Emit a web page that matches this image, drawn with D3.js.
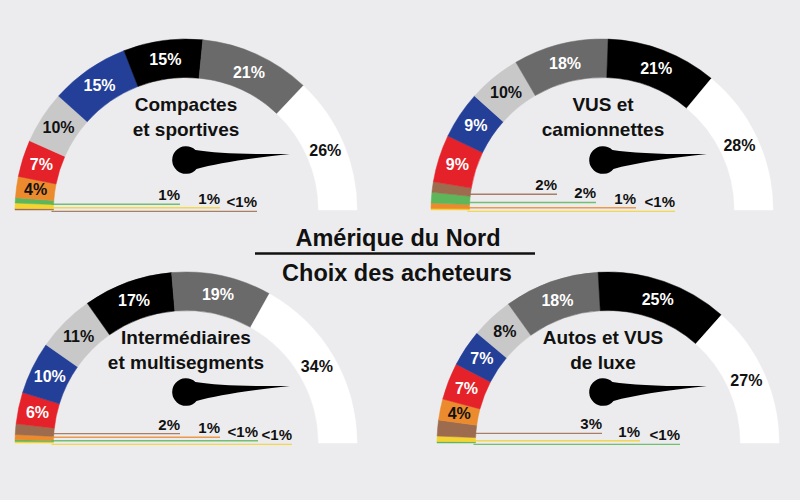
<!DOCTYPE html>
<html><head><meta charset="utf-8">
<script src="https://cdn.jsdelivr.net/npm/d3@7"></script>
<style>
html,body{margin:0;padding:0;background:#ececee;}
svg{display:block;}
text{font-family:"Liberation Sans",Arial,sans-serif;font-weight:bold;}
</style></head><body>
<svg id="chart" width="800" height="500"></svg>
<script>
// ---- data ----
const mainTitle = ["Amérique du Nord", "Choix des acheteurs"];
const gaugeTitles = [["Compactes", "et sportives"], ["VUS et", "camionnettes"], ["Intermédiaires", "et multisegments"], ["Autos et VUS", "de luxe"]];

// brands listed from the bottom-left end of each gauge to the right end
const g1Brands = ["brown", "yellow", "green", "orange", "red", "lightgrey", "blue", "black", "darkgrey", "white"];
const g1Values = [0.3, 1, 1, 4, 7, 10, 15, 15, 21, 26];
const g1Labels = ["<1%", "1%", "1%", "4%", "7%", "10%", "15%", "15%", "21%", "26%"];

const g2Brands = ["yellow", "orange", "green", "brown", "red", "blue", "lightgrey", "darkgrey", "black", "white"];
const g2Values = [0.3, 1, 2, 2, 9, 9, 10, 18, 21, 28];
const g2Labels = ["<1%", "1%", "2%", "2%", "9%", "9%", "10%", "18%", "21%", "28%"];

const g3Brands = ["yellow", "green", "orange", "brown", "red", "blue", "lightgrey", "black", "darkgrey", "white"];
const g3Values = [0.3, 0.3, 1, 2, 6, 10, 11, 17, 19, 34];
const g3Labels = ["<1%", "<1%", "1%", "2%", "6%", "10%", "11%", "17%", "19%", "34%"];

const g4Brands = ["green", "yellow", "brown", "orange", "red", "blue", "lightgrey", "darkgrey", "black", "white"];
const g4Values = [0.3, 1, 3, 4, 7, 7, 8, 18, 25, 27];
const g4Labels = ["<1%", "1%", "3%", "4%", "7%", "7%", "8%", "18%", "25%", "27%"];

// ---- styles / layout ----
const brandColors = {
  white: "#ffffff", black: "#000000", darkgrey: "#6a6a6a", lightgrey: "#c8c8c9",
  blue: "#243f98", red: "#e5222a", orange: "#eb8b2e", brown: "#9d6b4e",
  green: "#5db75a", yellow: "#f5d432"
};
const darkText = new Set(["white", "lightgrey", "orange", "yellow"]);

const layout = [
  {cx: 186, cy: 210, nx: 186, ny: 160, ends: [-6, 34, 71]},
  {cx: 602, cy: 210, nx: 603, ny: 160, ends: [-46, -7, 33, 72]},
  {cx: 186, cy: 443, nx: 186, ny: 392, ends: [-6, 34, 72, 106]},
  {cx: 608, cy: 443, nx: 603, ny: 392, ends: [-1, 37, 77]}
];
const rOut = 171, rIn = 132.5;

const gauges = [
  {brands: g1Brands, values: g1Values, labels: g1Labels},
  {brands: g2Brands, values: g2Values, labels: g2Labels},
  {brands: g3Brands, values: g3Values, labels: g3Labels},
  {brands: g4Brands, values: g4Values, labels: g4Labels}
];

const svg = d3.select("#chart");
svg.append("rect").attr("width", 800).attr("height", 500).attr("fill", "#ececee");

const pie = d3.pie().sort(null).value(d => d.value)
  .startAngle(-Math.PI / 2).endAngle(Math.PI / 2);
const arc = d3.arc().innerRadius(rIn).outerRadius(rOut);

const needlePath = "M10,-9.5 Q40,-3 104,0 Q40,3 10,9.5 A13.8,13.8 0 1 1 10,-9.5 Z";

gauges.forEach((gd, gi) => {
  const L = layout[gi];
  const rows = gd.brands.map((b, i) => ({brand: b, value: gd.values[i], label: gd.labels[i]}));
  const arcs = pie(rows);
  const g = svg.append("g");
  const ga = g.append("g").attr("transform", `translate(${L.cx},${L.cy})`);

  ga.selectAll("path").data(arcs).enter().append("path")
    .attr("d", arc)
    .attr("fill", d => brandColors[d.data.brand])
    .attr("stroke", d => brandColors[d.data.brand])
    .attr("stroke-width", 0.5);

  // labels inside big slices
  ga.selectAll("text.in").data(arcs.filter(d => d.data.value >= 4)).enter().append("text")
    .attr("class", "in")
    .attr("transform", d => `translate(${arc.centroid(d)})`)
    .attr("text-anchor", "middle")
    .attr("dy", "0.36em")
    .attr("font-size", 16)
    .attr("fill", d => darkText.has(d.data.brand) ? "#111" : "#fff")
    .text(d => d.data.label);

  // leader lines for small slices
  const small = arcs.filter(d => d.data.value < 4);
  let prevY = Infinity;
  const ys = small.map(d => {
    const a = (d.startAngle + d.endAngle) / 2;
    let y = L.cy + 2 - rIn * Math.cos(a);
    if (y > prevY - 3.6) y = prevY - 3.6;
    prevY = y;
    return y;
  });
  const n = small.length;
  small.forEach((d, i) => {
    const endX = L.nx + L.ends[n - 1 - i];
    const y = ys[i];
    g.append("line")
      .attr("x1", L.cx - rIn - 2).attr("x2", endX)
      .attr("y1", y).attr("y2", y)
      .attr("stroke", brandColors[d.data.brand])
      .attr("stroke-opacity", 0.85)
      .attr("stroke-width", 1.4);
    g.append("text")
      .attr("x", endX).attr("y", y - 4)
      .attr("text-anchor", "end")
      .attr("font-size", 15)
      .attr("fill", "#111")
      .text(d.data.label);
  });

  // needle
  g.append("path")
    .attr("d", needlePath)
    .attr("transform", `translate(${L.nx},${L.ny}) rotate(-3.3)`)
    .attr("fill", "#000");

  // gauge title
  gaugeTitles[gi].forEach((t, k) => {
    g.append("text")
      .attr("x", L.nx).attr("y", L.cy - 99 + k * 25)
      .attr("text-anchor", "middle")
      .attr("font-size", 19)
      .attr("fill", "#111")
      .text(t);
  });
});

// main title
svg.append("text").attr("x", 398).attr("y", 246).attr("text-anchor", "middle")
  .attr("font-size", 23.5).attr("fill", "#111").text(mainTitle[0]);
svg.append("line").attr("x1", 255).attr("x2", 535).attr("y1", 253.5).attr("y2", 253.5)
  .attr("stroke", "#111").attr("stroke-width", 2.5);
svg.append("text").attr("x", 397).attr("y", 281).attr("text-anchor", "middle")
  .attr("font-size", 23.5).attr("fill", "#111").text(mainTitle[1]);
</script>
</body></html>
